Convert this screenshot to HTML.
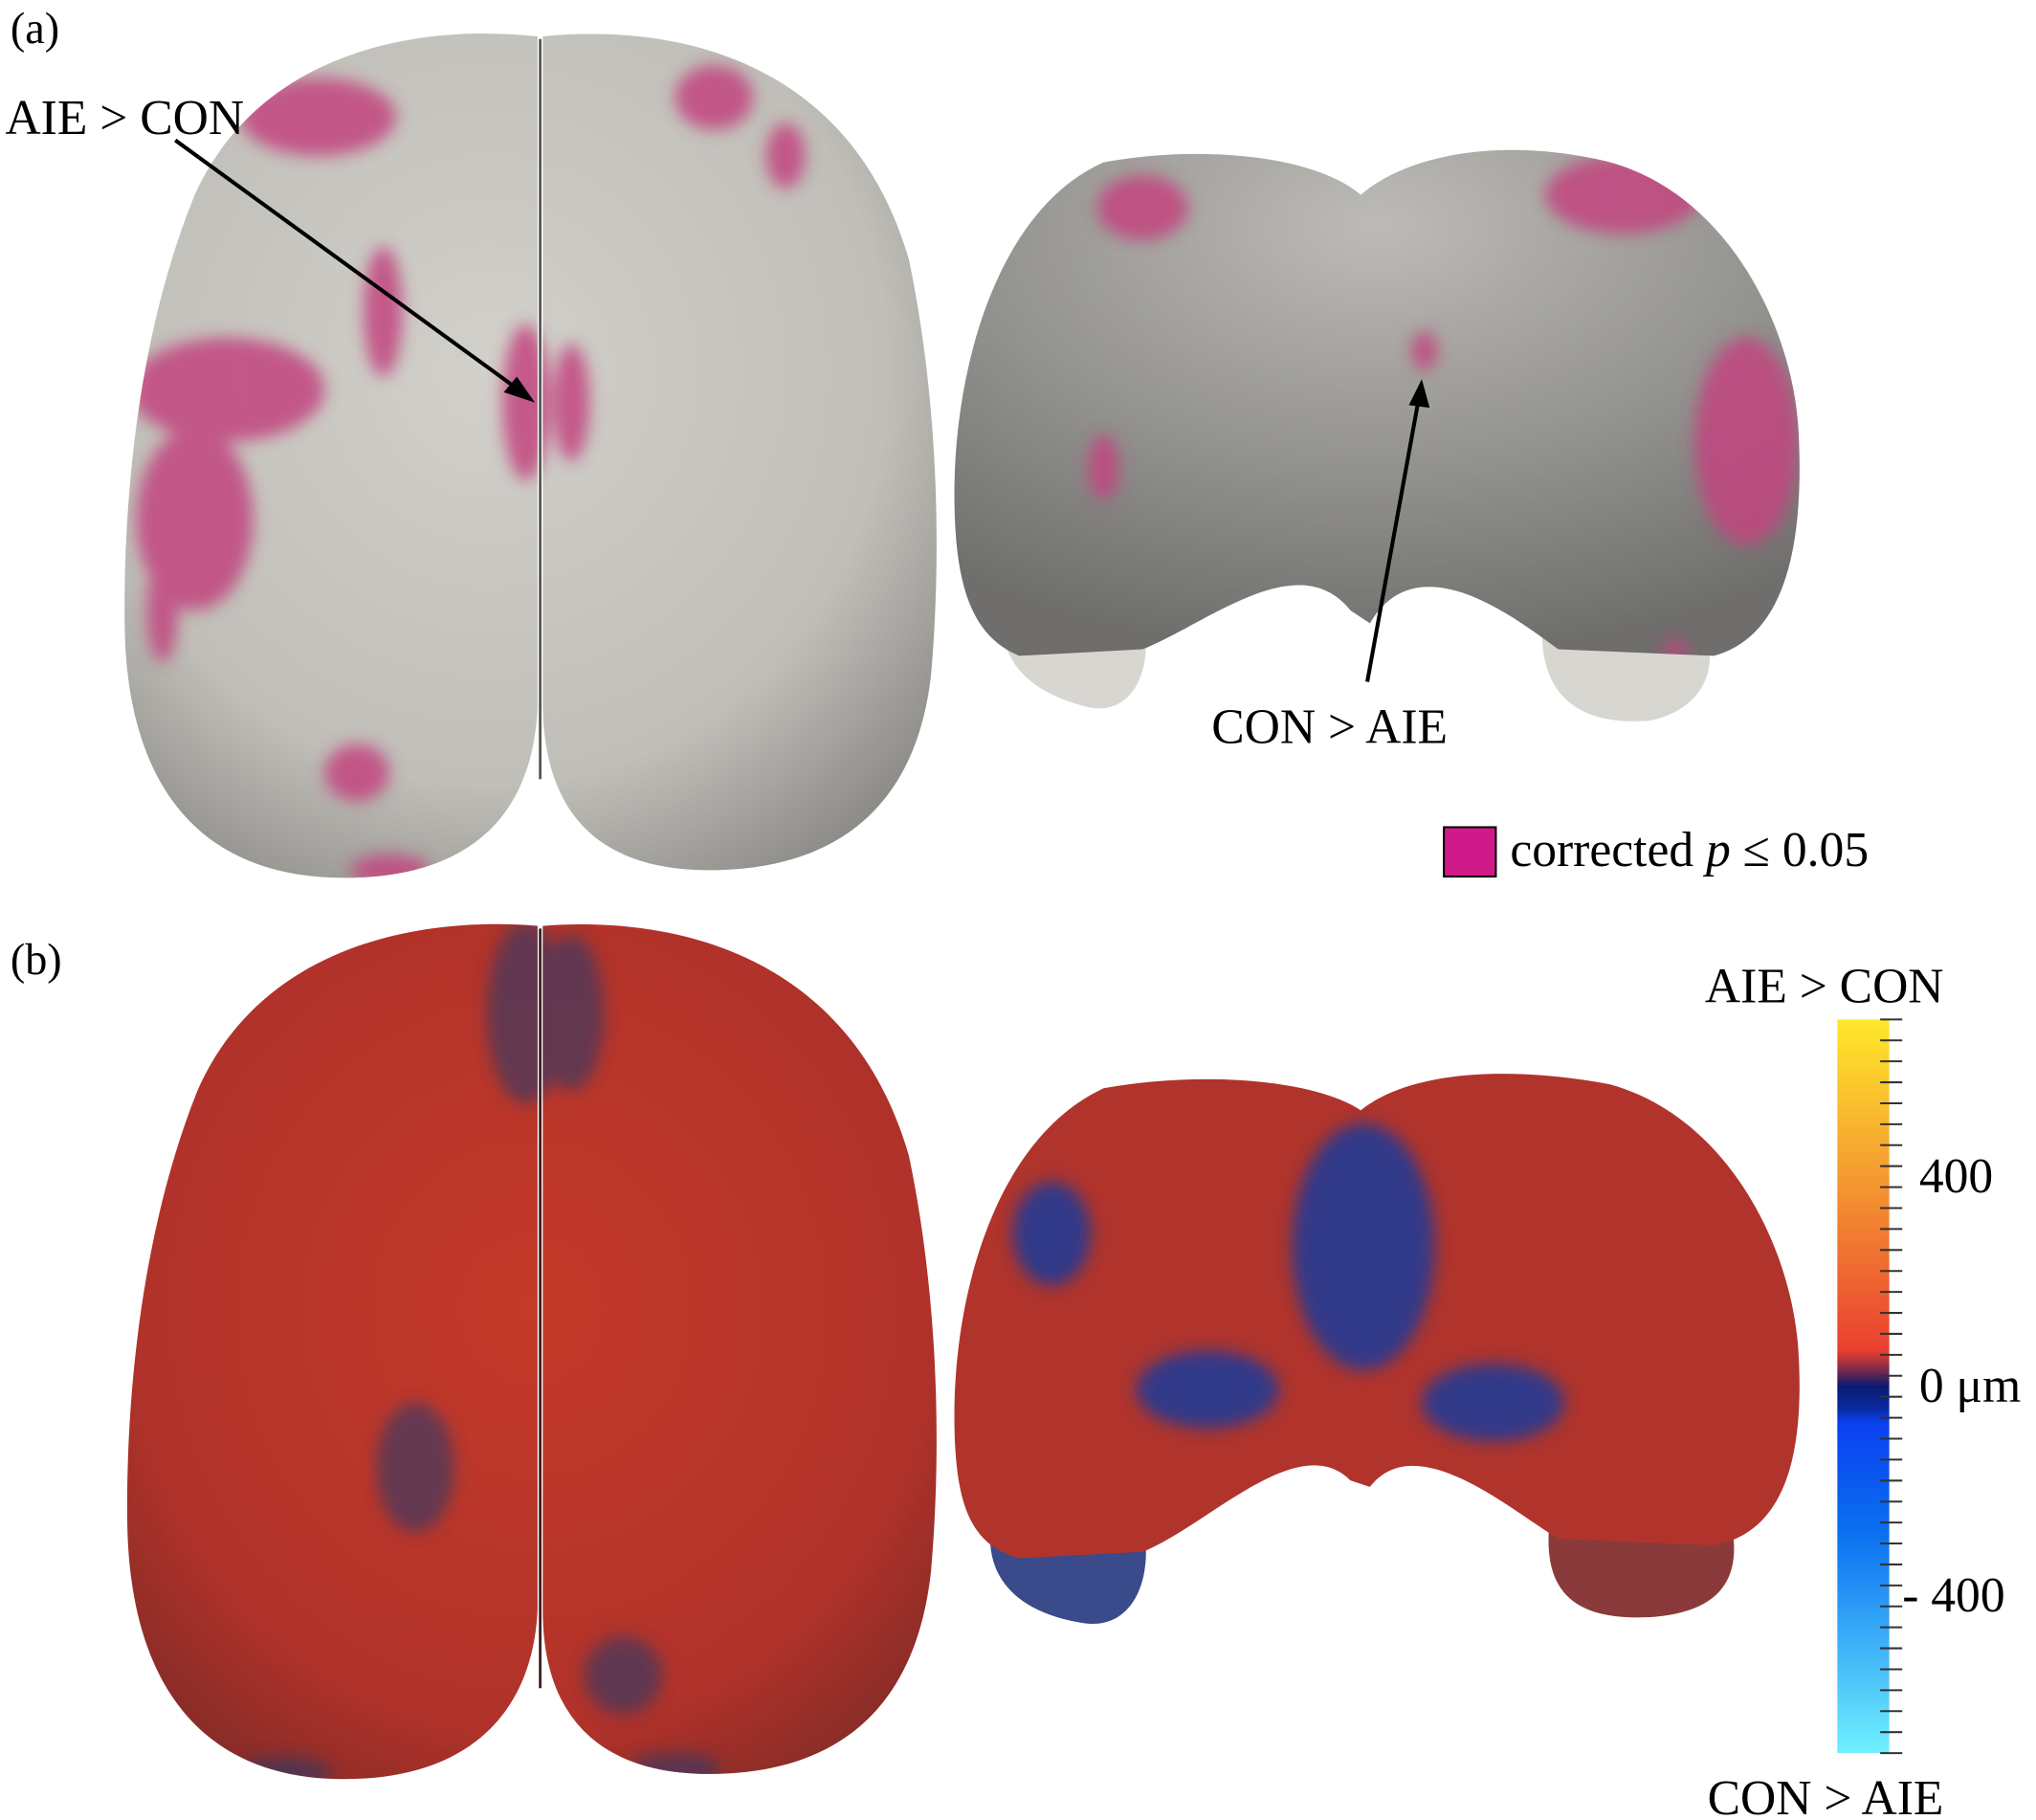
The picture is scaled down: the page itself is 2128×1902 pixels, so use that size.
<!DOCTYPE html>
<html><head><meta charset="utf-8"><style>
html,body{margin:0;padding:0;background:#fff;}
svg{display:block;font-family:"Liberation Serif",serif;}
</style></head><body>
<svg width="2128" height="1902" viewBox="0 0 1568 1401.5" xmlns="http://www.w3.org/2000/svg">
<defs>
<radialGradient id="gL" cx="0.45" cy="0.4" r="0.7"><stop offset="0" stop-color="#d2d0ca"/><stop offset="0.7" stop-color="#c0beb8"/><stop offset="1" stop-color="#8e8c88"/></radialGradient>
<radialGradient id="gF" cx="0.5" cy="0.15" r="0.85"><stop offset="0" stop-color="#bdbbb6"/><stop offset="0.6" stop-color="#908f8c"/><stop offset="1" stop-color="#6f6e6c"/></radialGradient>
<radialGradient id="rL" cx="0.5" cy="0.45" r="0.7"><stop offset="0" stop-color="#c53a2a"/><stop offset="0.7" stop-color="#b0322a"/><stop offset="1" stop-color="#7a2a26"/></radialGradient>
<filter id="blur"><feGaussianBlur stdDeviation="6"/></filter>
<path id="topA" d="M414,28 C320,18 200,40 150,150 C105,260 95,390 96,480 C97,600 150,676 265,676 C360,676 410,630 414,545 Z M418,28 C520,18 655,45 700,200 C725,320 724,440 717,520 C705,625 640,672 540,670 C460,668 418,625 418,540 Z"/>
<path id="frontA" d="M1048,150 C1010,118 920,112 850,125 C770,160 735,280 735,380 C735,450 748,490 785,505 L880,500 C930,480 1000,420 1040,470 L1055,480 C1090,420 1160,470 1200,500 L1320,505 C1375,490 1390,420 1385,330 C1380,250 1330,150 1240,125 C1160,105 1085,118 1048,150 Z"/>
<path id="topB" d="M414,713 C320,705 200,730 152,840 C108,950 97,1080 98,1170 C99,1290 150,1370 265,1370 C360,1370 410,1320 414,1240 Z M418,713 C520,705 655,735 700,890 C725,1010 724,1130 717,1210 C705,1320 640,1368 540,1366 C460,1364 418,1320 418,1240 Z"/>
<path id="frontB" d="M1048,855 C1010,830 920,825 850,838 C770,875 735,990 735,1090 C735,1160 748,1190 785,1200 L880,1195 C930,1175 1000,1100 1040,1140 L1055,1145 C1090,1100 1160,1160 1200,1185 L1320,1190 C1375,1180 1390,1120 1385,1040 C1380,960 1330,860 1240,835 C1160,820 1085,825 1048,855 Z"/>
<clipPath id="cTopA"><use href="#topA"/></clipPath>
<clipPath id="cFrontA"><use href="#frontA"/></clipPath>
<clipPath id="cTopB"><use href="#topB"/></clipPath>
<clipPath id="cFrontB"><use href="#frontB"/></clipPath>
<linearGradient id="cb" x1="0" y1="0" x2="0" y2="1">
<stop offset="0" stop-color="#ffe82a"/><stop offset="0.2" stop-color="#f5a030"/><stop offset="0.45" stop-color="#ea4030"/><stop offset="0.47" stop-color="#a03040"/><stop offset="0.49" stop-color="#402060"/><stop offset="0.5" stop-color="#0a1a70"/><stop offset="0.53" stop-color="#0a2aa0"/><stop offset="0.55" stop-color="#0a40f0"/><stop offset="0.7" stop-color="#0a70f0"/><stop offset="1" stop-color="#70f0ff"/></linearGradient>
</defs>

<text x="8" y="33" font-size="34">(a)</text>
<g>
<use href="#topA" fill="url(#gL)"/>
<line x1="416" y1="30" x2="416" y2="600" stroke="#55534f" stroke-width="2"/>
<g fill="#c2447f" opacity="0.85" clip-path="url(#cTopA)"><g filter="url(#blur)">
<ellipse cx="245" cy="90" rx="60" ry="30"/>
<ellipse cx="175" cy="300" rx="75" ry="40"/>
<ellipse cx="150" cy="400" rx="45" ry="70"/>
<ellipse cx="295" cy="240" rx="15" ry="50"/>
<ellipse cx="405" cy="310" rx="18" ry="60"/>
<ellipse cx="440" cy="310" rx="14" ry="45"/>
<ellipse cx="550" cy="75" rx="30" ry="25"/>
<ellipse cx="605" cy="120" rx="15" ry="25"/>
<ellipse cx="275" cy="595" rx="25" ry="22"/>
<ellipse cx="125" cy="470" rx="12" ry="40"/>
<ellipse cx="300" cy="670" rx="30" ry="12"/>
</g></g>
</g>
<g>
<path d="M780,440 C760,490 775,530 840,545 C870,550 890,520 880,470 Z" fill="#d8d6d0"/>
<path d="M1190,460 C1180,520 1200,560 1270,555 C1320,545 1330,500 1300,460 Z" fill="#d8d6d0"/>
<use href="#frontA" fill="url(#gF)"/>
<g fill="#c2447f" opacity="0.85" clip-path="url(#cFrontA)"><g filter="url(#blur)">
<ellipse cx="880" cy="160" rx="35" ry="25"/>
<ellipse cx="1250" cy="150" rx="60" ry="30"/>
<ellipse cx="1345" cy="340" rx="40" ry="80"/>
<ellipse cx="850" cy="360" rx="12" ry="25"/>
<ellipse cx="1097" cy="270" rx="10" ry="15"/>
<ellipse cx="1290" cy="500" rx="10" ry="8"/>
</g></g>
</g>
<text x="4" y="103" font-size="38">AIE &gt; CON</text>
<line x1="135" y1="108" x2="402" y2="302" stroke="#000" stroke-width="3"/>
<polygon points="412,310 388,302 398,290" fill="#000"/>
<text x="933" y="572" font-size="38">CON &gt; AIE</text>
<line x1="1053" y1="525" x2="1093" y2="305" stroke="#000" stroke-width="3"/>
<polygon points="1095,292 1085,312 1101,314" fill="#000"/>
<rect x="1112" y="637" width="40" height="38" fill="#d01a8a" stroke="#000" stroke-width="1.5"/>
<text x="1163" y="667" font-size="38">corrected <tspan font-style="italic">p</tspan> ≤ 0.05</text>

<text x="8" y="750" font-size="34">(b)</text>
<g>
<use href="#topB" fill="url(#rL)"/>
<line x1="416" y1="715" x2="416" y2="1300" stroke="#3a1a18" stroke-width="2"/>
<g fill="#2a3a6a" opacity="0.6" clip-path="url(#cTopB)"><g filter="url(#blur)">
<ellipse cx="405" cy="780" rx="30" ry="70"/>
<ellipse cx="440" cy="780" rx="25" ry="60"/>
<ellipse cx="320" cy="1130" rx="30" ry="50"/>
<ellipse cx="480" cy="1290" rx="30" ry="30"/>
<ellipse cx="220" cy="1365" rx="35" ry="12"/>
<ellipse cx="520" cy="1362" rx="35" ry="12"/>
</g></g>
</g>
<g>
<path d="M770,1150 C750,1200 770,1240 835,1250 C870,1255 890,1220 880,1170 Z" fill="#3a4a8a"/>
<path d="M1195,1160 C1185,1220 1205,1250 1275,1245 C1330,1240 1345,1210 1330,1160 Z" fill="#8a3a3a"/>
<use href="#frontB" fill="#b0342c"/>
<g fill="#1a3a9a" opacity="0.85" clip-path="url(#cFrontB)"><g filter="url(#blur)">
<ellipse cx="1050" cy="960" rx="55" ry="95"/>
<ellipse cx="810" cy="950" rx="30" ry="40"/>
<ellipse cx="930" cy="1070" rx="55" ry="30"/>
<ellipse cx="1150" cy="1080" rx="55" ry="30"/>
</g></g>
</g>

<g>
<rect x="1415" y="785" width="40" height="565" fill="url(#cb)"/>
<g id="ticks"></g>
<text x="1313" y="772" font-size="38">AIE &gt; CON</text>
<text x="1315" y="1397" font-size="38">CON &gt; AIE</text>
<g id="ticklabels" font-size="38"></g>
</g>
</svg>
<script>
const tickValues=[400,0,-400];
const tickLabels=["400","0 μm","- 400"];
const vTop=700, vBot=-700, y0=785, y1=1350;
function yScale(v){return y0+(vTop-v)/(vTop-vBot)*(y1-y0);}
const ns="http://www.w3.org/2000/svg";
const tg=document.getElementById('ticks'), lg=document.getElementById('ticklabels');
for(let v=vTop;v>=vBot;v-=40){
  const l=document.createElementNS(ns,'line');
  
  
  const y=yScale(v);
  l.setAttribute('x1',1448);l.setAttribute('x2',1465);l.setAttribute('y1',y);l.setAttribute('y2',y);
  l.setAttribute('stroke','#333');l.setAttribute('stroke-width','1.5');
  tg.appendChild(l);
}
tickValues.forEach((v,i)=>{
  const t=document.createElementNS(ns,'text');
  
  
  t.setAttribute('x',i==2?1465:1478);t.setAttribute('y',yScale(v)+12);
  t.textContent=tickLabels[i];
  lg.appendChild(t);
});
</script>
</body></html>
